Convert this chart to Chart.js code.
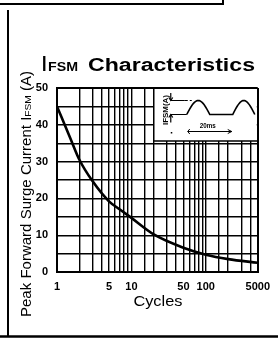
<!DOCTYPE html>
<html><head><meta charset="utf-8">
<script src="https://cdn.jsdelivr.net/npm/chart.js@4/dist/chart.umd.min.js"></script>
<style>html,body{margin:0;padding:0;background:#fff;overflow:hidden}#wrap{width:278px;height:339px;position:relative}</style>
</head><body><div id="wrap"><canvas id="c" width="278" height="339"></canvas></div>
<script>
// ---- data ----
const cycles = [1, 1.5, 2, 3, 5, 7, 10, 20, 50, 100, 200, 500];
const surgeCurrent = [45, 36.5, 30.5, 24.7, 19.2, 17, 14.7, 10.2, 6.6, 4.7, 3.5, 2.5];
const xTickValues = [1, 5, 10, 50, 100, 500];
const xTickLabels = ['1', '5', '10', '50', '100', '5000'];
const yTickLabels = [0, 10, 20, 30, 40, 50];
const titleParts = ['I', 'FSM', ' Characteristics'];
const yTitleParts = ['Peak Forward Surge Current I', 'FSM', ' (A)'];
const xTitle = 'Cycles';
const insetYLabel = 'IFSM(A)';
const insetPeriod = '20ms';

const FONT = '"Liberation Sans", Arial, Helvetica, sans-serif';

function fitText(ctx, text, x, y, width, font) {
  ctx.font = font;
  const w = ctx.measureText(text).width;
  ctx.save();
  ctx.translate(x, y);
  ctx.scale(width / w, 1);
  ctx.fillText(text, 0, 0);
  ctx.restore();
}

const decor = {
  id: 'decor',
  afterDraw(chart) {
    const ctx = chart.ctx;
    const ca = chart.chartArea;
    ctx.save();
    ctx.fillStyle = '#000';
    ctx.strokeStyle = '#000';
    ctx.textBaseline = 'alphabetic';
    ctx.textAlign = 'left';

    // page frame
    ctx.lineWidth = 2;
    ctx.beginPath();
    ctx.moveTo(0, 4); ctx.lineTo(223, 4); ctx.lineTo(223, 0);
    ctx.moveTo(8, 10); ctx.lineTo(8, 336);
    ctx.stroke();
    ctx.lineWidth = 2.5;
    ctx.beginPath(); ctx.moveTo(0, 336.5); ctx.lineTo(278, 336.5); ctx.stroke();

    // title
    fitText(ctx, titleParts[0], 42, 71, 4.5, 'bold 22px ' + FONT);
    fitText(ctx, titleParts[1], 48, 71, 30, 'bold 13px ' + FONT);
    fitText(ctx, titleParts[2].trim(), 88, 71, 167, 'bold 18px ' + FONT);

    // y axis title (rotated)
    ctx.save();
    ctx.translate(31, 317);
    ctx.rotate(-Math.PI / 2);
    const fBig = '14px ' + FONT, fSmall = '9.5px ' + FONT;
    ctx.font = fBig; const w0 = ctx.measureText(yTitleParts[0]).width;
    ctx.font = fSmall; const w1 = ctx.measureText(yTitleParts[1]).width;
    ctx.font = fBig; const w2 = ctx.measureText(yTitleParts[2]).width;
    const s = 246 / (w0 + w1 + w2);
    ctx.scale(s, 1);
    ctx.font = fBig; ctx.fillText(yTitleParts[0], 0, 0);
    ctx.font = fSmall; ctx.fillText(yTitleParts[1], w0, 0);
    ctx.font = fBig; ctx.fillText(yTitleParts[2], w0 + w1, 0);
    ctx.restore();

    // x axis title
    fitText(ctx, xTitle, (ca.left + ca.right) / 2 - 24, 306, 49, '15px ' + FONT);

    // inset (waveform definition)
    const L = ca.right - 104, T = ca.top, R = ca.right, B = ca.top + 53;
    ctx.fillStyle = '#fff';
    ctx.fillRect(L, T + 1, R - L - 1, B - T - 1);
    ctx.fillStyle = '#000';
    ctx.lineWidth = 1.5;
    ctx.beginPath();
    ctx.moveTo(L, T); ctx.lineTo(L, B); ctx.lineTo(R, B);
    ctx.stroke();

    ctx.save();
    ctx.translate(L + 14, T + 37);
    ctx.rotate(-Math.PI / 2);
    fitText(ctx, insetYLabel, 0, 0, 30, 'bold 7px ' + FONT);
    ctx.restore();

    const base = T + 26.5, peak = T + 12.5;
    ctx.lineWidth = 1.2;
    ctx.beginPath();
    ctx.moveTo(L + 17, T + 5); ctx.lineTo(L + 17, peak);
    ctx.moveTo(L + 17, peak); ctx.lineTo(L + 31, peak);
    ctx.moveTo(L + 17, base + 8); ctx.lineTo(L + 17, base);
    ctx.moveTo(L + 17, base); ctx.lineTo(L + 33, base);
    ctx.stroke();
    ctx.setLineDash([3, 2]);
    ctx.beginPath(); ctx.moveTo(L + 31, peak); ctx.lineTo(L + 38, peak); ctx.stroke();
    ctx.setLineDash([]);
    ctx.beginPath();
    ctx.moveTo(L + 15, peak - 3); ctx.lineTo(L + 17, peak); ctx.lineTo(L + 19, peak - 3);
    ctx.moveTo(L + 15, base + 3); ctx.lineTo(L + 17, base); ctx.lineTo(L + 19, base + 3);
    ctx.stroke();

    ctx.lineWidth = 1.6;
    ctx.beginPath();
    const hump = (x0, x1) => {
      for (let i = 0; i <= 24; i++) {
        const t = i / 24;
        ctx.lineTo(x0 + (x1 - x0) * t, base - (base - peak) * Math.sin(Math.PI * t));
      }
    };
    ctx.moveTo(L + 33, base);
    hump(L + 33, L + 56);
    ctx.lineTo(L + 79, base);
    hump(L + 79, L + 101);
    ctx.stroke();

    fitText(ctx, insetPeriod, L + 46, T + 40, 16, 'bold 7px ' + FONT);
    ctx.lineWidth = 1;
    ctx.beginPath();
    ctx.moveTo(L + 34, T + 43.5); ctx.lineTo(L + 78, T + 43.5);
    ctx.moveTo(L + 74, T + 41.5); ctx.lineTo(L + 78, T + 43.5); ctx.lineTo(L + 74, T + 45.5);
    ctx.moveTo(L + 36, T + 41); ctx.lineTo(L + 34, T + 43.5); ctx.lineTo(L + 36, T + 46);
    ctx.stroke();
    ctx.fillRect(L + 17, T + 44, 1.5, 1.5);

    ctx.restore();
  }
};

new Chart(document.getElementById('c'), {
  type: 'line',
  data: {
    datasets: [{
      data: cycles.map((c, i) => ({ x: c, y: surgeCurrent[i] })),
      borderColor: '#000',
      borderWidth: 2.6,
      pointRadius: 0,
      cubicInterpolationMode: 'monotone',
      fill: false
    }]
  },
  options: {
    responsive: false,
    devicePixelRatio: 1,
    animation: false,
    layout: { padding: { left: 0, right: 20, top: 88, bottom: 0 } },
    plugins: { legend: { display: false }, tooltip: { enabled: false }, title: { display: false } },
    scales: {
      x: {
        type: 'logarithmic',
        min: 1, max: 500,
        afterFit(s) { s.height = 67; },
        grid: {
          color: '#000',
          lineWidth: (ctx) => (ctx.tick && (ctx.tick.value === 1 || ctx.tick.value === 500)) ? 2 : 1.4,
          drawTicks: false
        },
        border: { display: true, color: '#000', width: 2 },
        ticks: {
          autoSkip: false, maxRotation: 0, minRotation: 0, padding: 8,
          color: '#000',
          font: { family: FONT, size: 11, weight: 'bold' },
          callback(v) {
            const i = xTickValues.findIndex(t => Math.abs(t - v) < 1e-6);
            return i >= 0 ? xTickLabels[i] : '';
          }
        }
      },
      y: {
        min: 0, max: 50,
        afterFit(s) { s.width = 57; },
        grid: {
          color: '#000',
          lineWidth: (ctx) => (ctx.tick && (ctx.tick.value === 0 || ctx.tick.value === 50)) ? 2 : 1.4,
          drawTicks: false
        },
        border: { display: true, color: '#000', width: 2 },
        ticks: {
          stepSize: 5, padding: 9, color: '#000',
          font: { family: FONT, size: 11, weight: 'bold' },
          callback(v) { return yTickLabels.includes(v) ? String(v) : ''; }
        }
      }
    }
  },
  plugins: [decor]
});
</script>
</body></html>
